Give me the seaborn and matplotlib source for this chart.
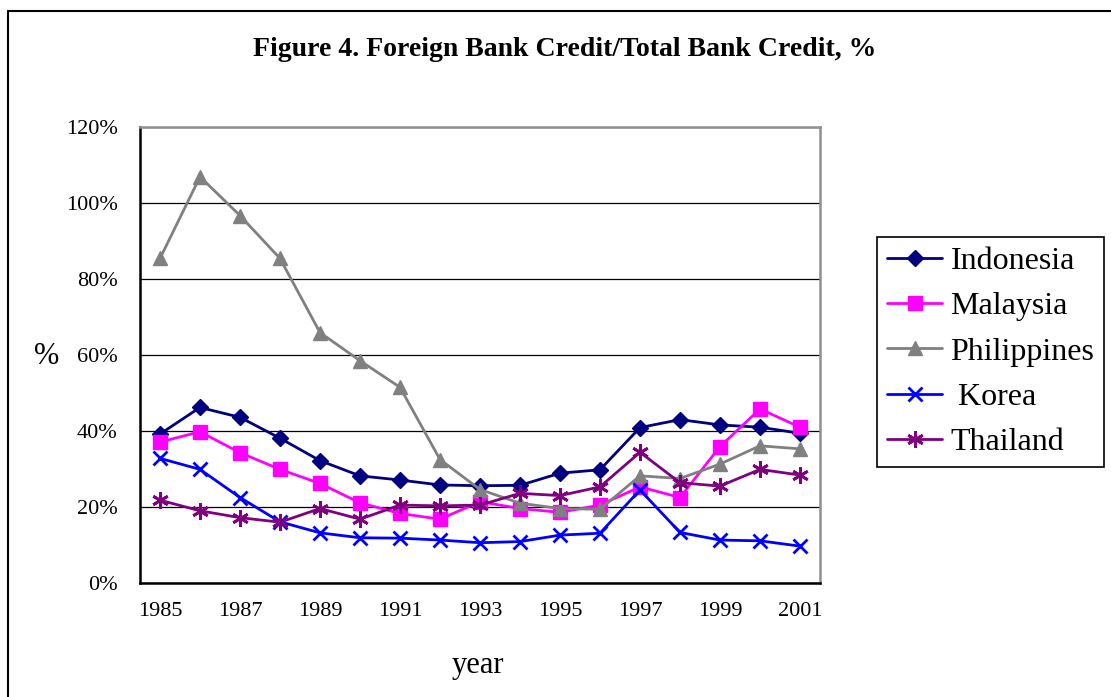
import numpy as np
import pandas as pd
import matplotlib
matplotlib.use("Agg")
import matplotlib.pyplot as plt
from matplotlib.lines import Line2D
from matplotlib.ticker import FuncFormatter, MultipleLocator
import seaborn as sns

# Data (percent)
years = list(range(1985, 2002))
indonesia = [39.2, 46.2, 43.6, 38.1, 32.2, 28.2, 27.1, 25.8, 25.6, 25.7, 28.9, 29.8, 40.9, 43.0, 41.6, 41.0, 39.4]
malaysia = [37.1, 39.8, 34.3, 29.9, 26.2, 21.1, 18.3, 16.8, 21.4, 19.6, 18.6, 20.5, 25.3, 22.5, 35.9, 45.8, 41.0]
philippines = [85.4, 106.9, 96.7, 85.4, 65.9, 58.5, 51.5, 32.5, 24.6, 21.0, 19.6, 19.4, 28.2, 27.5, 31.3, 36.1, 35.3]
korea = [32.8, 29.9, 22.5, 16.1, 13.2, 11.9, 11.8, 11.3, 10.6, 10.9, 12.6, 13.1, 24.5, 13.3, 11.3, 11.1, 9.7]
thailand = [21.8, 19.0, 17.2, 16.0, 19.6, 16.8, 20.5, 20.3, 20.5, 23.6, 23.0, 25.3, 34.4, 26.4, 25.5, 29.9, 28.4]

series_names = ["Indonesia", "Malaysia", "Philippines", " Korea", "Thailand"]
series_values = [indonesia, malaysia, philippines, korea, thailand]

df = pd.DataFrame({"year": years})
for name, vals in zip(series_names, series_values):
    df[name] = vals
long_df = df.melt(id_vars="year", var_name="country", value_name="pct")

styles = {
    "Indonesia": dict(color="#000080", marker="D", ms=8, mew=1),
    "Malaysia": dict(color="#FF00FF", marker="s", ms=10, mew=1),
    "Philippines": dict(color="#808080", marker="^", ms=10, mew=1),
    " Korea": dict(color="#0000FF", marker="x", ms=10, mew=2),
    "Thailand": dict(color="#800080", marker=(6, 2, 0), ms=12, mew=2),
}

sns.set_style("white")
plt.rcParams["font.family"] = ["Liberation Serif", "DejaVu Serif"]
plt.rcParams["text.color"] = "black"
plt.rcParams["xtick.color"] = "black"
plt.rcParams["ytick.color"] = "black"

fig = plt.figure(figsize=(11.11, 6.97), dpi=100)
ax = fig.add_axes([140 / 1111, 1 - 583 / 697, 680 / 1111, 456 / 697])

for name in series_names:
    st = styles[name]
    sub = long_df[long_df["country"] == name]
    sns.lineplot(data=sub, x="year", y="pct", ax=ax, color=st["color"],
                 marker=st["marker"], markersize=st["ms"], markeredgewidth=st["mew"],
                 markeredgecolor=st["color"], linewidth=2, label=name, legend=False)

ax.set_xlim(1984.5, 2001.5)
ax.set_ylim(0, 120)
ax.yaxis.set_major_locator(MultipleLocator(20))
ax.yaxis.set_major_formatter(FuncFormatter(lambda v, p: f"{int(v)}%"))
ax.set_xticks(list(range(1985, 2002, 2)))
ax.set_xticks(np.arange(1984.5, 2002, 1), minor=True)
ax.tick_params(axis="x", which="major", length=0, pad=14, labelsize=16)
ax.tick_params(axis="x", which="minor", direction="in", length=6, width=1, color="black")
ax.tick_params(axis="y", length=0, pad=16, labelsize=16)

ax.grid(axis="y", color="black", linewidth=0.9)
ax.set_axisbelow(True)
for side in ["left", "bottom"]:
    ax.spines[side].set_color("black")
    ax.spines[side].set_linewidth(1.8)
for side in ["top", "right"]:
    ax.spines[side].set_color("#909090")
    ax.spines[side].set_linewidth(1.8)

ax.set_xlabel("")
ax.set_ylabel("")
fig.text(478 / 1111, 1 - 665 / 697, "year", fontsize=22, ha="center", va="center")
fig.text(47 / 1111, 1 - 357 / 697, "%", fontsize=22, ha="center", va="center")
fig.text(565 / 1111, 1 - 49 / 697, "Figure 4. Foreign Bank Credit/Total Bank Credit, %",
         fontsize=20, fontweight="bold", ha="center", va="center")

handles, labels = ax.get_legend_handles_labels()
leg = fig.legend(handles, labels, loc="upper left", bbox_to_anchor=(877 / 1111, 1 - 237 / 697),
                 borderaxespad=0, fontsize=23, frameon=True, fancybox=False, framealpha=1,
                 edgecolor="black", handlelength=1.75, handletextpad=0.25, labelspacing=0.5,
                 borderpad=0.3)
leg.get_frame().set_linewidth(1.2)

# outer figure border (left and top edges visible)
fig.add_artist(Line2D([8 / 1111, 8 / 1111], [0, 1 - 11 / 697], color="black", lw=1.5))
fig.add_artist(Line2D([8 / 1111, 1], [1 - 11 / 697, 1 - 11 / 697], color="black", lw=1.5))

fig.savefig("out.png", dpi=100)
